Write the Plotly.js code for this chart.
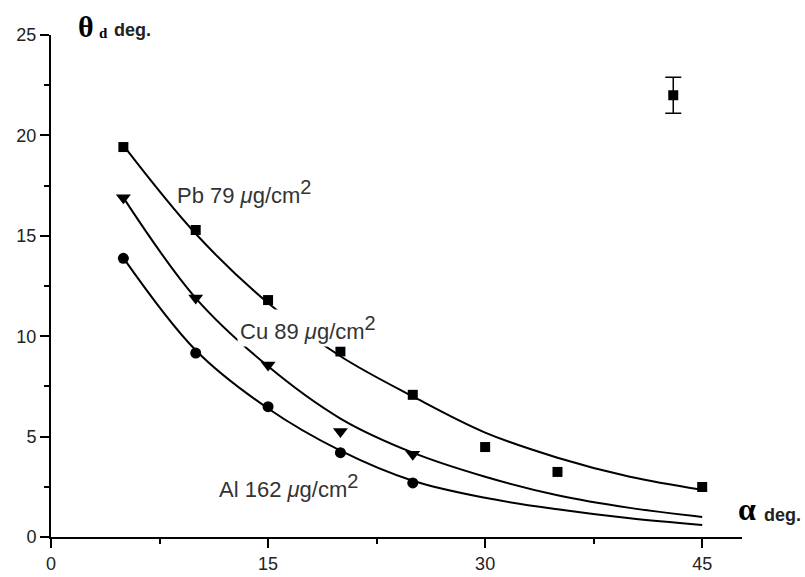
<!DOCTYPE html>
<html>
<head>
<meta charset="utf-8">
<script src="https://cdn.plot.ly/plotly-3.0.1.min.js"></script>
<style>html,body{margin:0;padding:0;background:#fff;}#chart{width:805px;height:577px;}</style>
</head>
<body>
<div id="chart"></div>
<script>
// Measured points
var pbAlpha = [5, 10, 15, 20, 25, 30, 35, 45];
var pbTheta = [19.42, 15.29, 11.8, 9.24, 7.08, 4.48, 3.24, 2.49];
var cuAlpha = [5, 10, 15, 20, 25];
var cuTheta = [16.9, 11.9, 8.57, 5.25, 4.12];
var alAlpha = [5, 10, 15, 20, 25];
var alTheta = [13.88, 9.16, 6.49, 4.2, 2.69];

// Fitted curves
var fitAlpha = [5, 10, 15, 20, 25, 30, 35, 40, 45];
var pbFit = [19.5, 15.1, 11.65, 9.0, 7.0, 5.2, 3.95, 3.0, 2.35];
var cuFit = [16.9, 11.9, 8.5, 5.9, 4.2, 3.0, 2.08, 1.45, 1.0];
var alFit = [13.9, 9.3, 6.4, 4.3, 2.8, 1.95, 1.38, 0.93, 0.6];

// Error-bar sample point
var errAlpha = [43];
var errTheta = [22.0];
var errSize = [0.9];

// Axis ticks
var xTicks = [0, 15, 30, 45];
var yTicks = [0, 5, 10, 15, 20, 25];

var lineStyle = {color: '#000', width: 2, shape: 'spline', smoothing: 1};
var traces = [
  {x: fitAlpha, y: pbFit, mode: 'lines', line: lineStyle, hoverinfo: 'skip'},
  {x: fitAlpha, y: cuFit, mode: 'lines', line: lineStyle, hoverinfo: 'skip'},
  {x: fitAlpha, y: alFit, mode: 'lines', line: lineStyle, hoverinfo: 'skip'},
  {x: pbAlpha, y: pbTheta, mode: 'markers', marker: {symbol: 'square', size: 10, color: '#000'}},
  {x: cuAlpha, y: cuTheta, mode: 'markers', marker: {symbol: 'triangle-down', size: 13, color: '#000'}},
  {x: alAlpha, y: alTheta, mode: 'markers', marker: {symbol: 'circle', size: 11, color: '#000'}},
  {x: errAlpha, y: errTheta, mode: 'markers', marker: {symbol: 'square', size: 10, color: '#000'},
   error_y: {type: 'data', array: errSize, visible: true, color: '#000', thickness: 1.5, width: 8}}
];

var labFont = {family: 'Liberation Sans, Arial, sans-serif', size: 22, color: '#333'};
function px(x){return (x-51)/691;}
function py(y){return (537-y)/502;}
var unit = ' <i>\u03bc</i>g/cm<sup><span style="font-size:20px">2</span></sup>';

var layout = {
  width: 805, height: 577,
  margin: {l: 51, r: 63, t: 35, b: 40},
  paper_bgcolor: '#fff', plot_bgcolor: '#fff',
  showlegend: false,
  xaxis: {
    range: [0, 47.75], tickvals: xTicks, ticktext: xTicks.map(String),
    showgrid: false, zeroline: false, showline: true, linecolor: '#000', linewidth: 2,
    ticks: 'outside', ticklen: 9, tickwidth: 2, tickcolor: '#000',
    minor: {dtick: 7.5, tick0: 0, ticks: 'outside', ticklen: 5, tickwidth: 2, tickcolor: '#000', showgrid: false},
    tickfont: {family: 'Liberation Sans, Arial, sans-serif', size: 18, color: '#222'},
    fixedrange: true
  },
  yaxis: {
    range: [0, 25], tickvals: yTicks, ticktext: yTicks.map(String),
    showgrid: false, zeroline: false, showline: true, linecolor: '#000', linewidth: 2,
    ticks: 'outside', ticklen: 9, tickwidth: 2, tickcolor: '#000',
    minor: {dtick: 2.5, tick0: 0, ticks: 'outside', ticklen: 5, tickwidth: 2, tickcolor: '#000', showgrid: false},
    tickfont: {family: 'Liberation Sans, Arial, sans-serif', size: 18, color: '#222'},
    fixedrange: true
  },
  annotations: [
    {xref: 'paper', yref: 'paper', x: px(176), y: py(192), xanchor: 'left', yanchor: 'middle', showarrow: false,
     text: 'Pb 79' + unit, font: labFont, borderpad: 0},
    {xref: 'paper', yref: 'paper', x: px(237), y: py(328), xanchor: 'left', yanchor: 'middle', showarrow: false,
     text: 'Cu 89' + unit, font: labFont, bgcolor: '#fff', borderpad: 2},
    {xref: 'paper', yref: 'paper', x: px(218), y: py(486), xanchor: 'left', yanchor: 'middle', showarrow: false,
     text: 'Al 162' + unit, font: labFont, borderpad: 0},
    {xref: 'paper', yref: 'paper', x: px(76), y: py(26), xanchor: 'left', yanchor: 'middle', showarrow: false,
     text: '<b>\u03b8</b>', font: {family: 'Liberation Serif, Times New Roman, serif', size: 30, color: '#000'}},
    {xref: 'paper', yref: 'paper', x: px(97), y: py(33), xanchor: 'left', yanchor: 'middle', showarrow: false,
     text: '<b>d</b>', font: {family: 'Liberation Serif, Times New Roman, serif', size: 15, color: '#000'}},
    {xref: 'paper', yref: 'paper', x: px(112), y: py(30), xanchor: 'left', yanchor: 'middle', showarrow: false,
     text: '<b>deg.</b>', font: {family: 'Liberation Sans, Arial, sans-serif', size: 18, color: '#222'}},
    {xref: 'paper', yref: 'paper', x: px(736), y: py(509), xanchor: 'left', yanchor: 'middle', showarrow: false,
     text: '<b>\u03b1</b>', font: {family: 'Liberation Serif, Times New Roman, serif', size: 32, color: '#000'}},
    {xref: 'paper', yref: 'paper', x: px(762), y: py(515), xanchor: 'left', yanchor: 'middle', showarrow: false,
     text: '<b>deg.</b>', font: {family: 'Liberation Sans, Arial, sans-serif', size: 18, color: '#222'}}
  ]
};

Plotly.newPlot('chart', traces, layout, {displayModeBar: false, staticPlot: true});
</script>
</body>
</html>
